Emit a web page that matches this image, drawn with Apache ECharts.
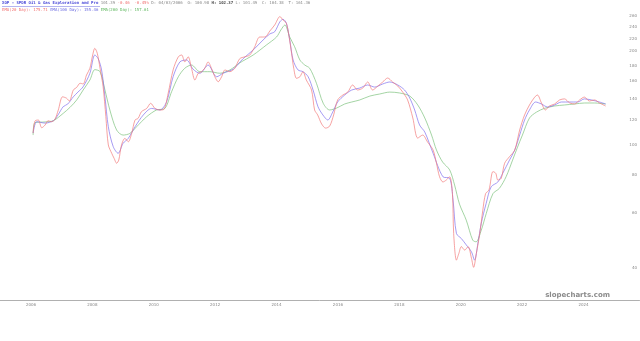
<!DOCTYPE html>
<html><head><meta charset="utf-8">
<script src="https://cdn.jsdelivr.net/npm/echarts@6/dist/echarts.min.js"></script>
<style>html,body{margin:0;padding:0;background:#fff}#c{width:640px;height:341px}</style>
</head><body><div id="c"></div>
<script>
// x labels (years)
const yearTicks = [2006, 2008, 2010, 2012, 2014, 2016, 2018, 2020, 2022, 2024];
// y labels (log scale)
const priceTicks = [40, 60, 80, 100, 120, 140, 160, 180, 200, 220, 240, 260];

// EMA fast (red)
const emaFastDates = [2006.07,2006.13,2006.24,2006.35,2006.46,2006.56,2006.67,2006.78,2006.89,2007.03,2007.16,2007.25,2007.38,2007.49,2007.60,2007.70,2007.81,2007.92,2008.01,2008.08,2008.16,2008.25,2008.35,2008.44,2008.52,2008.63,2008.71,2008.79,2008.86,2008.95,2009.06,2009.17,2009.28,2009.39,2009.49,2009.60,2009.77,2009.90,2010.04,2010.20,2010.33,2010.47,2010.63,2010.80,2010.91,2011.01,2011.12,2011.23,2011.34,2011.45,2011.56,2011.66,2011.77,2011.88,2011.99,2012.10,2012.21,2012.32,2012.48,2012.64,2012.80,2012.97,2013.13,2013.29,2013.45,2013.62,2013.78,2013.94,2014.11,2014.21,2014.32,2014.41,2014.49,2014.56,2014.65,2014.76,2014.86,2014.97,2015.14,2015.24,2015.34,2015.47,2015.60,2015.73,2015.86,2015.99,2016.16,2016.32,2016.48,2016.64,2016.81,2016.97,2017.13,2017.30,2017.46,2017.62,2017.78,2017.95,2018.11,2018.27,2018.44,2018.60,2018.76,2018.92,2019.10,2019.21,2019.31,2019.42,2019.53,2019.64,2019.73,2019.77,2019.86,2019.94,2020.02,2020.13,2020.24,2020.35,2020.42,2020.51,2020.62,2020.72,2020.81,2020.92,2021.05,2021.14,2021.21,2021.32,2021.43,2021.59,2021.76,2021.92,2022.08,2022.24,2022.41,2022.50,2022.63,2022.76,2022.89,2023.06,2023.22,2023.38,2023.55,2023.71,2023.87,2024.03,2024.19,2024.36,2024.52,2024.72];
const emaFastValues = [109.0,119.2,120.1,113.4,115.7,119.5,118.6,120.7,129.4,142.7,141.2,138.3,150.1,153.1,157.8,157.0,167.8,176.4,194.7,204.6,197.2,176.4,153.8,123.1,99.8,93.8,90.3,87.1,89.2,99.8,104.8,102.2,108.7,120.1,121.6,127.8,130.9,136.0,130.9,129.4,130.0,146.5,174.2,192.1,194.7,184.9,192.1,176.4,161.7,170.0,172.0,176.4,184.9,176.4,165.6,159.6,165.6,174.2,172.0,176.4,189.4,192.1,194.7,207.0,222.5,222.5,232.6,243.3,259.0,252.5,246.5,222.5,197.2,176.4,163.7,165.6,172.0,161.7,150.1,129.4,124.7,116.6,113.1,114.8,124.7,139.4,144.6,147.8,155.8,150.1,152.3,159.3,150.1,154.6,159.3,164.1,159.3,154.6,147.8,139.4,121.9,105.0,107.4,102.0,96.1,87.1,78.8,75.8,76.9,78.8,69.5,51.7,42.4,44.6,46.9,45.7,46.9,43.0,40.2,44.6,51.7,61.5,69.5,71.4,81.9,80.9,76.9,77.9,87.1,91.5,96.1,111.5,124.7,134.3,142.4,144.6,136.3,129.4,133.3,135.3,139.4,140.5,136.3,135.3,139.4,142.4,138.3,139.4,136.3,133.3];

// EMA medium (blue)
const emaMidDates = [2006.07,2006.19,2006.46,2006.73,2006.88,2007.05,2007.20,2007.38,2007.53,2007.70,2007.92,2008.08,2008.19,2008.30,2008.41,2008.52,2008.68,2008.84,2009.00,2009.17,2009.39,2009.66,2009.93,2010.20,2010.42,2010.63,2010.85,2011.07,2011.28,2011.50,2011.77,2012.05,2012.26,2012.59,2012.91,2013.24,2013.56,2013.78,2013.94,2014.11,2014.21,2014.32,2014.43,2014.54,2014.70,2014.86,2015.03,2015.19,2015.35,2015.51,2015.67,2015.83,2015.99,2016.22,2016.45,2016.71,2016.97,2017.20,2017.46,2017.69,2017.95,2018.17,2018.34,2018.50,2018.66,2018.83,2019.10,2019.42,2019.64,2019.75,2019.86,2020.02,2020.18,2020.35,2020.45,2020.56,2020.67,2020.83,2020.99,2021.21,2021.37,2021.59,2021.76,2021.92,2022.08,2022.24,2022.44,2022.63,2022.83,2023.06,2023.28,2023.55,2023.81,2024.03,2024.26,2024.52,2024.72];
const emaMidValues = [109.0,118.6,117.4,119.5,124.7,132.6,135.3,142.7,147.8,153.8,170.0,194.7,189.4,174.2,142.7,114.2,98.5,93.8,101.0,104.8,114.2,124.7,130.9,129.4,137.6,165.6,184.9,187.6,175.3,170.0,180.7,165.6,170.0,175.3,189.4,202.1,217.6,227.6,231.5,249.3,253.8,246.5,217.6,187.6,174.2,172.0,165.6,150.1,132.6,124.7,120.1,127.4,137.3,144.6,150.1,152.3,155.8,153.4,157.0,159.3,155.8,150.1,141.3,129.4,115.7,109.8,93.8,78.8,77.9,66.3,51.7,49.8,47.5,45.1,42.4,48.1,55.8,64.7,73.1,75.8,80.9,89.2,96.1,107.4,120.1,129.4,137.3,135.3,132.3,134.3,137.3,137.3,137.3,140.5,139.4,137.3,135.3];

// EMA slow (green)
const emaSlowDates = [2006.07,2006.13,2006.46,2006.73,2007.05,2007.27,2007.49,2007.70,2007.92,2008.08,2008.25,2008.41,2008.57,2008.79,2009.00,2009.22,2009.44,2009.77,2010.09,2010.36,2010.58,2010.80,2011.01,2011.23,2011.50,2011.83,2012.15,2012.48,2012.80,2013.24,2013.67,2014.00,2014.14,2014.27,2014.43,2014.59,2014.76,2014.92,2015.08,2015.30,2015.52,2015.73,2015.96,2016.22,2016.45,2016.71,2017.04,2017.36,2017.69,2018.01,2018.34,2018.60,2018.83,2019.05,2019.21,2019.41,2019.64,2019.80,2019.96,2020.18,2020.39,2020.50,2020.67,2020.83,2021.05,2021.26,2021.48,2021.69,2021.84,2022.01,2022.24,2022.47,2022.73,2023.06,2023.38,2023.71,2024.03,2024.36,2024.72];
const emaSlowValues = [107.4,117.8,118.4,119.5,126.2,131.9,139.4,150.1,161.7,174.6,172.0,150.1,129.4,111.5,107.4,108.7,114.2,123.1,129.4,130.9,148.1,165.6,176.4,180.7,172.0,172.0,170.0,174.2,183.6,194.7,209.7,222.5,234.4,243.3,222.5,207.0,187.6,180.7,176.4,157.8,136.0,129.4,131.3,135.3,137.3,139.4,143.5,145.7,147.8,146.8,143.5,134.3,121.9,107.4,96.1,87.9,82.9,74.1,64.3,57.1,49.2,48.6,53.0,59.9,69.5,72.3,78.9,89.2,97.6,107.4,121.9,127.4,131.0,133.3,134.3,135.3,136.3,136.3,135.3];

const headerLine1 = '{t|XOP - SPDR Oil & Gas Exploration and Pro} {g|101.39} {r|-0.46  -0.45%} {g|D: 04/03/2006  O: 100.98} {k|H: 102.37} {g|L: 101.49  C: 104.38  T: 161.36}';
const headerLine2 = '{r|EMA(20 Day): 175.71} {b|EMA(100 Day): 155.46} {gr|EMA(200 Day): 157.61}';

function pairs(d, v) { return d.map((x, i) => [x, v[i]]); }

const chart = echarts.init(document.getElementById('c'), null, {renderer: 'canvas'});
const mono = 'DejaVu Sans Mono';
chart.setOption({
  animation: false,
  backgroundColor: '#ffffff',
  grid: {left: 0, right: 0, top: 14, bottom: 41},
  xAxis: {
    type: 'value', min: 2004.991, max: 2025.824,
    axisLine: {show: true, lineStyle: {color: '#b0b0b0', width: 1}},
    axisTick: {show: false},
    splitLine: {show: false},
    axisLabel: {customValues: yearTicks, fontSize: 4, color: '#888', fontFamily: 'DejaVu Sans', margin: 3, formatter: v => String(Math.round(v))}
  },
  yAxis: {
    type: 'log', position: 'right', min: 31.54, max: 264.0,
    axisLine: {show: false}, axisTick: {show: false}, splitLine: {show: false},
    axisLabel: {inside: true, customValues: priceTicks, fontSize: 4, color: '#888', fontFamily: 'DejaVu Sans', margin: 2.5, formatter: v => String(Math.round(v))}
  },
  series: [
    {type: 'line', name: 'EMA slow', data: pairs(emaSlowDates, emaSlowValues), showSymbol: false, smooth: 0.3, lineStyle: {color: '#7cc27c', width: 0.7}},
    {type: 'line', name: 'EMA mid', data: pairs(emaMidDates, emaMidValues), showSymbol: false, smooth: 0.3, lineStyle: {color: '#8070ee', width: 0.7}},
    {type: 'line', name: 'EMA fast', data: pairs(emaFastDates, emaFastValues), showSymbol: false, smooth: 0.3, lineStyle: {color: '#f27a7a', width: 0.7}}
  ],
  graphic: [
    {type: 'text', left: 2, top: 1, style: {text: headerLine1, font: '4px ' + mono, rich: {
      t: {fontFamily: mono, fontSize: 4, fontWeight: 'bold', fill: '#4a4ad8'},
      g: {fontFamily: mono, fontSize: 4, fill: '#888'},
      r: {fontFamily: mono, fontSize: 4, fill: '#f07070'},
      k: {fontFamily: mono, fontSize: 4, fontWeight: 'bold', fill: '#444'}
    }}},
    {type: 'line', shape: {x1: 2, y1: 6.5, x2: 100, y2: 6.5}, style: {stroke: '#6a6ae0', lineWidth: 0.5}},
    {type: 'text', left: 2, top: 8, style: {text: headerLine2, font: '4px ' + mono, rich: {
      r: {fontFamily: mono, fontSize: 4, fill: '#f07070'},
      b: {fontFamily: mono, fontSize: 4, fill: '#6a6ae0'},
      gr: {fontFamily: mono, fontSize: 4, fill: '#60b860'}
    }}},
    {type: 'text', right: 30, top: 292, style: {text: 'slopecharts.com', font: 'bold 7px "DejaVu Sans"', fill: '#8a8a8a'}}
  ]
});
</script></body></html>
